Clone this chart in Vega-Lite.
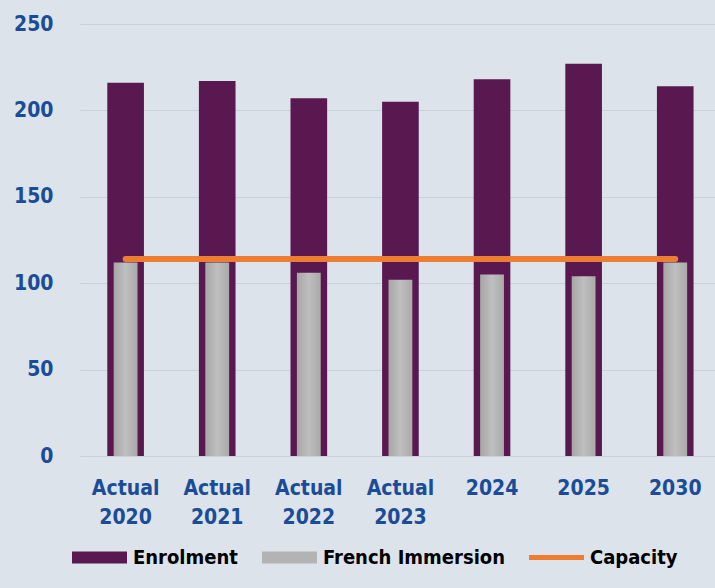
{
  "$schema": "https://vega.github.io/schema/vega-lite/v6.json",
  "autosize": "none",
  "width": 635,
  "height": 432,
  "padding": {"left": 80, "top": 24, "right": 0, "bottom": 132},
  "background": "#dde3ea",
  "config": {
    "view": {"stroke": null},
    "font": "DejaVu Sans Condensed, sans-serif"
  },
  "data": {
    "values": [
      {"year": "Actual 2020", "enrolment": 216, "fi": 112, "capacity": 114},
      {"year": "Actual 2021", "enrolment": 217, "fi": 112, "capacity": 114},
      {"year": "Actual 2022", "enrolment": 207, "fi": 106, "capacity": 114},
      {"year": "Actual 2023", "enrolment": 205, "fi": 102, "capacity": 114},
      {"year": "2024", "enrolment": 218, "fi": 105, "capacity": 114},
      {"year": "2025", "enrolment": 227, "fi": 104, "capacity": 114},
      {"year": "2030", "enrolment": 214, "fi": 112, "capacity": 114}
    ]
  },
  "encoding": {
    "x": {
      "field": "year",
      "type": "nominal",
      "sort": null,
      "title": null,
      "scale": {"paddingInner": 0.6, "paddingOuter": 0.266, "align": 0.56},
      "axis": {
        "domain": false,
        "ticks": false,
        "labelAngle": 0,
        "labelExpr": "split(datum.label, ' ')",
        "labelFont": "DejaVu Sans Condensed, sans-serif",
        "labelFontWeight": "bold",
        "labelFontSize": 21,
        "labelColor": "#1a4c98",
        "labelPadding": 21,
        "labelLineHeight": 29,
        "labelBaseline": "top"
      }
    }
  },
  "layer": [
    {
      "mark": {"type": "bar"},
      "encoding": {
        "y": {
          "field": "enrolment",
          "type": "quantitative",
          "title": null,
          "scale": {"domain": [0, 250], "nice": false, "zero": true},
          "axis": {
            "values": [0, 50, 100, 150, 200, 250],
            "domain": false,
            "ticks": false,
            "grid": true,
            "gridColor": "#c8d0d9",
            "gridWidth": 1.2,
            "labelFont": "DejaVu Sans Condensed, sans-serif",
            "labelFontWeight": "bold",
            "labelFontSize": 21,
            "labelColor": "#1a4c98",
            "labelPadding": 27
          }
        },
        "color": {
          "datum": "Enrolment",
          "type": "nominal",
          "scale": {
            "domain": ["Enrolment", "French Immersion", "Capacity"],
            "range": ["#5a1850", "#b3b3b3", "#ed7d31"]
          },
          "legend": {
            "title": null,
            "orient": "none",
            "legendX": -8,
            "legendY": 506,
            "direction": "horizontal",
            "columns": 3,
            "gridAlign": "none",
            "columnPadding": 24,
            "symbolSize": 3025,
            "symbolType": "M-1,-0.22H1V0.22H-1Z",
            "labelOffset": 6,
            "labelFont": "DejaVu Sans Condensed, sans-serif",
            "labelFontWeight": "bold",
            "labelFontSize": 20,
            "labelColor": "#000000",
            "labelLimit": 300,
            "encode": {
              "symbols": {
                "update": {
                  "shape": {"signal": "datum.value === 'Capacity' ? 'M-1,-0.09H1V0.09H-1Z' : 'M-1,-0.22H1V0.22H-1Z'"},
                  "fill": {"scale": "color", "field": "value"},
                  "strokeWidth": {"value": 0},
                  "opacity": {"value": 1}
                }
              }
            }
          }
        }
      }
    },
    {
      "mark": {
        "type": "bar",
        "width": {"band": 0.65},
        "fill": {
          "gradient": "linear",
          "x1": 0, "y1": 0, "x2": 1, "y2": 0,
          "stops": [
            {"offset": 0, "color": "#a6a6a6"},
            {"offset": 0.5, "color": "#bfbfbf"},
            {"offset": 1, "color": "#a9a9a9"}
          ]
        }
      },
      "encoding": {
        "y": {"field": "fi", "type": "quantitative"}
      }
    },
    {
      "mark": {"type": "line", "strokeWidth": 6, "strokeCap": "round"},
      "encoding": {
        "y": {"field": "capacity", "type": "quantitative"},
        "color": {"datum": "Capacity", "type": "nominal"}
      }
    }
  ]
}
